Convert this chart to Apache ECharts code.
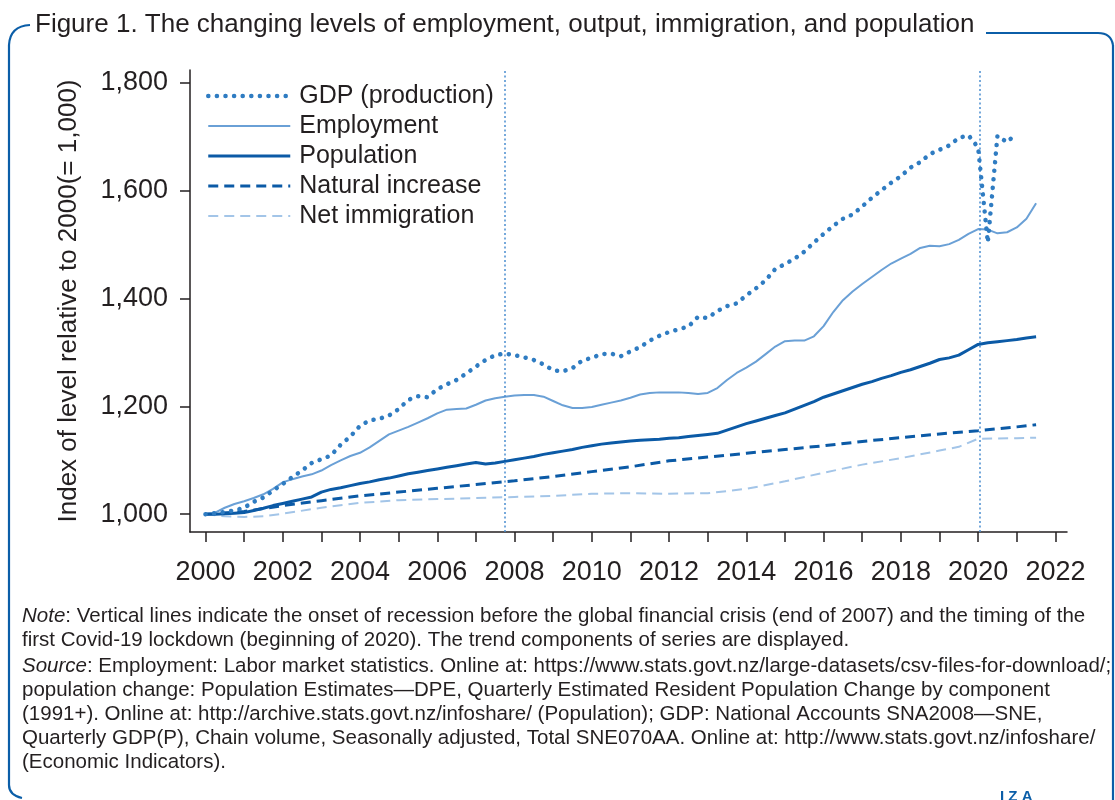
<!DOCTYPE html>
<html>
<head>
<meta charset="utf-8">
<script src="https://cdn.jsdelivr.net/npm/echarts@6/dist/echarts.min.js"></script>
<style>
html,body{margin:0;padding:0;background:#fff;}
#chart{width:1115px;height:800px;}
</style>
</head>
<body>
<div id="chart"></div>
<script>
// ---------- DATA ----------
const gdpStart = 2000;
const gdpValues = [
1000,1002,1004,1007, 1012,1023,1031,1044, 1056,1069,1081,1095, 1102,1109,1129,1144,
1164,1174,1177,1183, 1195,1212,1219,1217, 1232,1241,1249,1261, 1274,1286,1295,1298,
1295,1291,1286,1278, 1267,1265,1271,1285, 1290,1297,1298,1293, 1302,1310,1322,1331,
1338,1343,1348,1366, 1364,1377,1386,1391, 1406,1419,1434,1455, 1464,1474,1487,1504,
1520,1535,1548,1556, 1571,1587,1601,1615, 1627,1643,1653,1668, 1676,1684,1698,1703,
1680,1504,1702,1690, 1707
];
const employmentValues = [
1000,1003,1012,1019, 1024,1030,1037,1047, 1059,1065,1070,1074, 1081,1091,1100,1108,
1114,1124,1136,1148, 1155,1162,1170,1178, 1187,1194,1195,1196, 1203,1211,1215,1218,
1220,1221,1221,1218, 1210,1202,1197,1197, 1199,1203,1207,1211, 1216,1222,1225,1226,
1226,1226,1225,1223, 1225,1234,1249,1262, 1272,1283,1297,1311, 1321,1322,1322,1330,
1349,1375,1397,1413, 1427,1440,1453,1465, 1474,1483,1494,1498, 1497,1501,1509,1520,
1529,1528,1521,1523, 1532,1548,1577
];
const populationValues = [
1000,1000,1001,1002, 1003,1007,1011,1016, 1020,1024,1028,1032, 1041,1046,1049,1053,
1057,1060,1064,1067, 1071,1075,1078,1081, 1084,1087,1090,1093, 1096,1093,1095,1098,
1101,1104,1107,1111, 1114,1117,1120,1124, 1127,1130,1132,1134, 1136,1137,1138,1139,
1141,1142,1144,1146, 1148,1150,1156,1162, 1168,1173,1178,1183, 1188,1195,1202,1209,
1217,1223,1229,1235, 1241,1246,1252,1257, 1263,1268,1274,1280, 1287,1290,1295,1305,
1315,1318,1320,1322, 1324,1327,1329
];
const naturalYears = [2000,2001,2002,2003,2004,2005,2006,2007,2008,2009,2010,2011,2012,2013,2014,2015,2016,2017,2018,2019,2020,2021,2021.5];
const naturalValues = [1000,1005,1016,1025,1034,1041,1048,1055,1062,1070,1079,1088,1099,1106,1113,1120,1127,1135,1142,1149,1155,1162,1166];
const immigrationYears = [2000,2000.5,2001,2001.5,2002,2003,2004,2005,2006,2007,2008,2009,2010,2011,2012,2013,2014,2015,2016,2017,2018,2019,2019.5,2020,2021,2021.5];
const immigrationValues = [1000,996,995,996,1001,1012,1021,1026,1028,1030,1032,1034,1038,1039,1038,1039,1047,1061,1077,1092,1104,1118,1125,1140,1141,1142];
const eventLines = [2007.75, 2020.05];
const xTickValues = [2000,2001,2002,2003,2004,2005,2006,2007,2008,2009,2010,2011,2012,2013,2014,2015,2016,2017,2018,2019,2020,2021,2022];
const xLabelValues = [2000,2002,2004,2006,2008,2010,2012,2014,2016,2018,2020,2022];
const yTickValues = [1000,1200,1400,1600,1800];
const seriesNames = ['GDP (production)','Employment','Population','Natural increase','Net immigration'];

// ---------- BUILD ----------
function quarterly(vals){ return vals.map((v,i)=>[gdpStart + i*0.25, v]); }
function paired(xs, vals){ return xs.map((x,i)=>[x, vals[i]]); }

const TXT = '#231f20';
const FRAME = '#0b5ea8';
const FONT = '"Liberation Sans", Arial, sans-serif';

const styles = [
  {color:'#2f7cc2', width:4.5, type:[0.1,8.5], cap:'round'},
  {color:'#6aa0d6', width:2, type:'solid'},
  {color:'#0b5aa6', width:3, type:'solid'},
  {color:'#0b5aa6', width:3, type:[10,6]},
  {color:'#a3c5e8', width:2, type:[10,6]}
];

const chart = echarts.init(document.getElementById('chart'), null, {renderer:'canvas'});

const noteLines = [
  [{t:'Note', i:true},{t:': Vertical lines indicate the onset of recession before the global financial crisis (end of 2007) and the timing of the'}],
  [{t:'first Covid-19 lockdown (beginning of 2020). The trend components of series are displayed.'}],
  [{t:'Source', i:true},{t:': Employment: Labor market statistics. Online at: https://www.stats.govt.nz/large-datasets/csv-files-for-download/;'}],
  [{t:'population change: Population Estimates\u2014DPE, Quarterly Estimated Resident Population Change by component'}],
  [{t:'(1991+). Online at: http://archive.stats.govt.nz/infoshare/ (Population); GDP: National Accounts SNA2008\u2014SNE,'}],
  [{t:'Quarterly GDP(P), Chain volume, Seasonally adjusted, Total SNE070AA. Online at: http://www.stats.govt.nz/infoshare/'}],
  [{t:'(Economic Indicators).'}]
];
const noteY = [615, 639, 665, 689, 713, 737, 761];
const noteGraphics = noteLines.map((parts, k) => ({
  type:'text', left:22, top: noteY[k]-9,
  style:{
    text: parts.map(p => p.i ? '{i|'+p.t+'}' : '{n|'+p.t+'}').join(''),
    rich:{
      i:{fontFamily:FONT, fontSize:20.5, fontStyle:'italic', fill:TXT},
      n:{fontFamily:FONT, fontSize:20.5, fill:TXT}
    }
  }
}));

const frameStyle = {fill:null, stroke:FRAME, lineWidth:2.2};
const option = {
  backgroundColor:'#ffffff',
  animation:false,
  grid:{left:190, right:48, top:70, bottom:268, containLabel:false},
  legend:{
    orient:'vertical', left:201, top:76,
    itemWidth:82, itemHeight:14, itemGap:0,
    itemStyle:{color:'rgba(0,0,0,0)', borderWidth:0, opacity:0},
    textStyle:{fontFamily:FONT, fontSize:25, color:TXT, lineHeight:30, padding:[0,0,0,4]},
    data: seriesNames.map((n,i)=>({name:n, lineStyle:Object.assign({}, styles[i])}))
  },
  xAxis:{
    type:'value', min:1999.6, max:2022.3,
    splitLine:{show:false},
    axisLine:{show:true, lineStyle:{color:TXT, width:1.5}},
    axisTick:{show:true, length:10, customValues:xTickValues, lineStyle:{color:TXT, width:1.5}},
    axisLabel:{customValues:xLabelValues, fontFamily:FONT, fontSize:27, color:TXT, margin:27,
               formatter: v => String(Math.round(v))}
  },
  yAxis:{
    type:'value', min:967, max:1824,
    name:'Index of level relative to 2000(= 1,000)',
    nameLocation:'middle', nameGap:108, nameRotate:90,
    nameTextStyle:{fontFamily:FONT, fontSize:26, color:TXT},
    splitLine:{show:false},
    axisLine:{show:true, lineStyle:{color:TXT, width:1.5}},
    axisTick:{show:true, length:10, customValues:yTickValues, lineStyle:{color:TXT, width:1.5}},
    axisLabel:{customValues:yTickValues, fontFamily:FONT, fontSize:27, color:TXT, margin:22,
               formatter: v => Math.round(v).toLocaleString('en-US')}
  },
  series:[
    {name:seriesNames[0], type:'line', data:quarterly(gdpValues), showSymbol:false, symbol:'none',
     lineStyle:styles[0], itemStyle:{color:styles[0].color}, z:5,
     markLine:{silent:true, symbol:'none', label:{show:false},
       lineStyle:{color:'#4a8dd0', width:1.5, type:[2,2.5]},
       data: eventLines.map(v=>({xAxis:v}))}},
    {name:seriesNames[1], type:'line', data:quarterly(employmentValues), showSymbol:false, symbol:'none',
     lineStyle:styles[1], itemStyle:{color:styles[1].color}, z:4},
    {name:seriesNames[2], type:'line', data:quarterly(populationValues), showSymbol:false, symbol:'none',
     lineStyle:styles[2], itemStyle:{color:styles[2].color}, z:4},
    {name:seriesNames[3], type:'line', data:paired(naturalYears, naturalValues), showSymbol:false, symbol:'none',
     lineStyle:styles[3], itemStyle:{color:styles[3].color}, z:3},
    {name:seriesNames[4], type:'line', data:paired(immigrationYears, immigrationValues), showSymbol:false, symbol:'none',
     lineStyle:styles[4], itemStyle:{color:styles[4].color}, z:3}
  ],
  graphic:[
    {type:'text', left:35, top:12, style:{text:'Figure 1. The changing levels of employment, output, immigration, and population',
      fontFamily:FONT, fontSize:26, fill:TXT}},
    {type:'bezierCurve', shape:{x1:30, y1:25, cpx1:10, cpy1:26, x2:9, y2:45}, style:frameStyle},
    {type:'line', shape:{x1:9, y1:45, x2:9, y2:785}, style:frameStyle},
    {type:'bezierCurve', shape:{x1:9, y1:785, cpx1:9, cpy1:795, x2:22, y2:798}, style:frameStyle},
    {type:'line', shape:{x1:986, y1:33, x2:1098, y2:33}, style:frameStyle},
    {type:'bezierCurve', shape:{x1:1098, y1:33, cpx1:1111, cpy1:33, x2:1113, y2:45}, style:frameStyle},
    {type:'line', shape:{x1:1113, y1:45, x2:1113, y2:800}, style:frameStyle},
    {type:'text', left:1000, top:789, style:{text:'I Z A', fontFamily:FONT, fontSize:15, fontWeight:'bold', fill:FRAME}}
  ].concat(noteGraphics)
};
chart.setOption(option);
</script>
</body>
</html>
